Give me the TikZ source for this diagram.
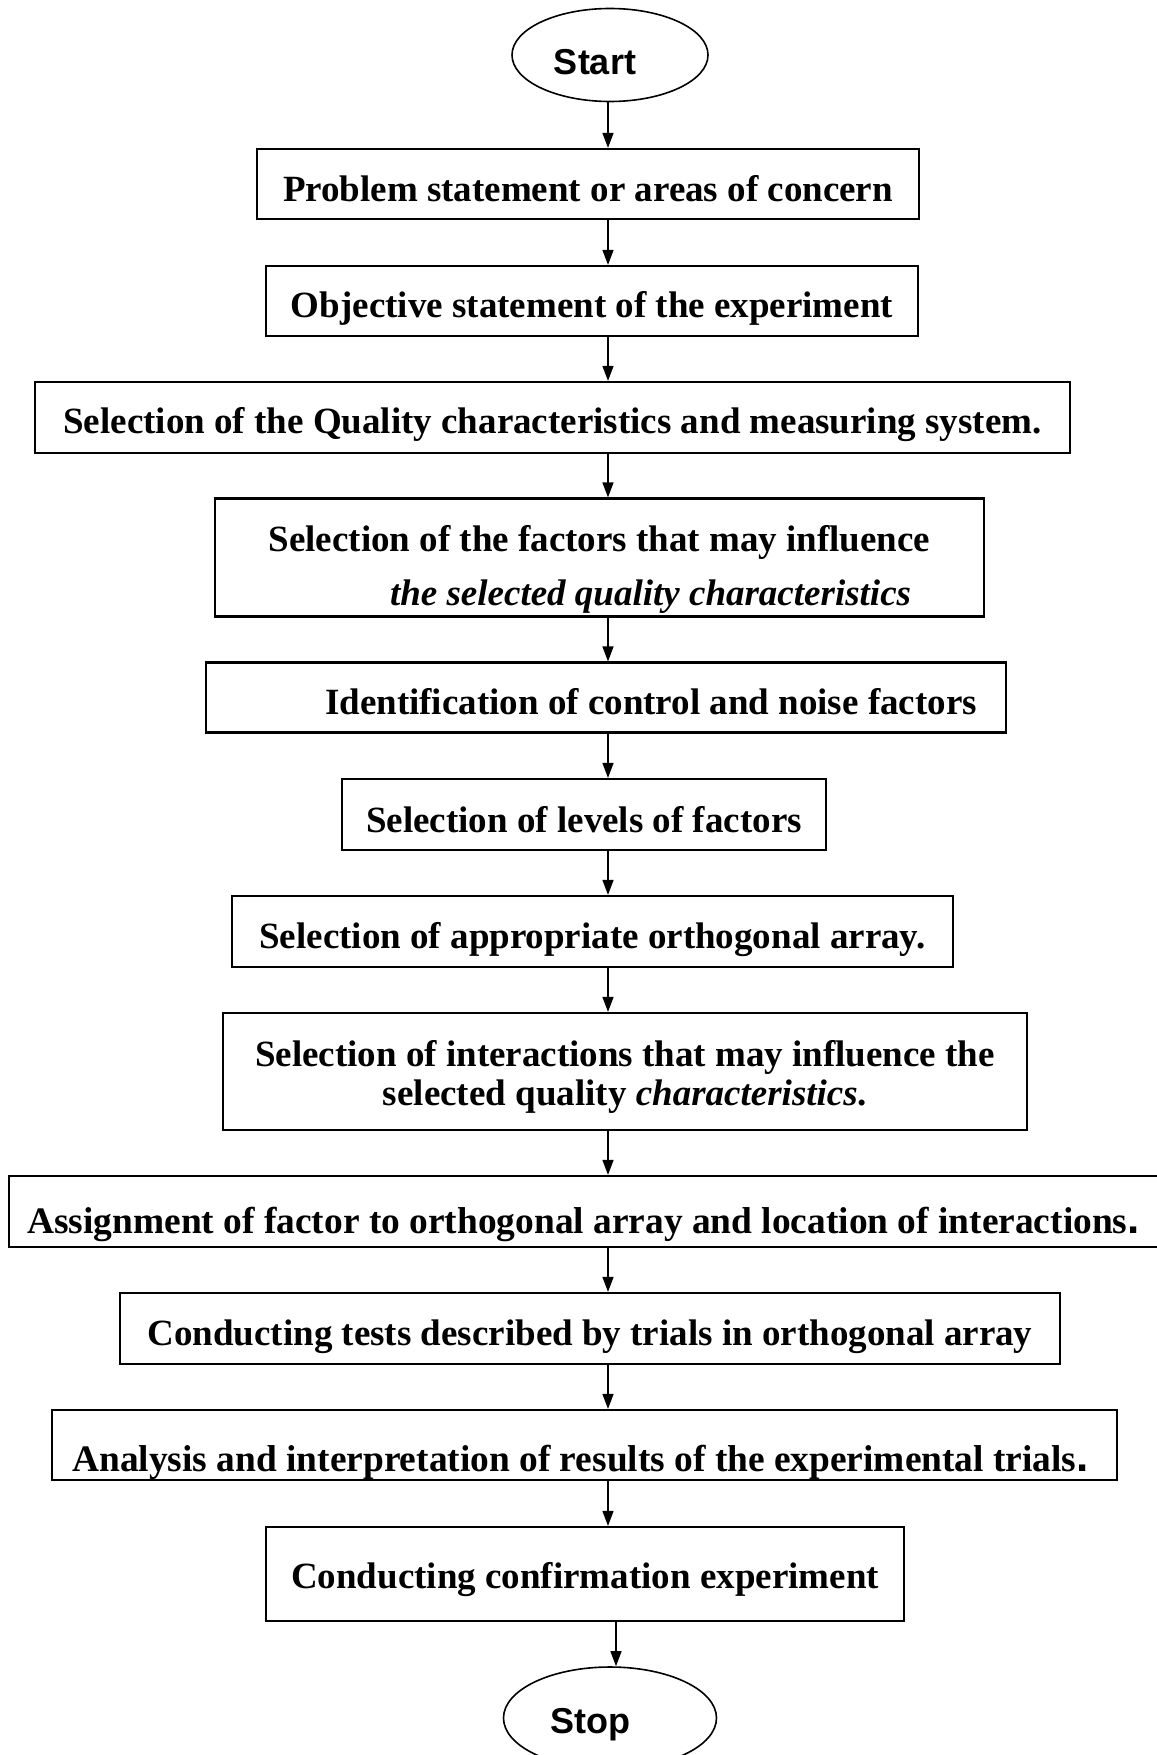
\documentclass[tikz,border=0pt]{standalone}
\usepackage{fontspec}
\setmainfont{Liberation Serif}
\newfontfamily\termfont{Liberation Sans}
\usetikzlibrary{arrows.meta,shapes.geometric}

% bold, slightly enlarged full stop used at the end of some steps
\newcommand{\bigstop}{{\termfont\fontsize{44}{44}\selectfont\bfseries.}}

\begin{document}
\begin{tikzpicture}[x=1pt,y=-1pt,
  stepbox/.style={draw, line width=2.2pt, inner sep=0pt, align=center,
    font=\fontsize{37}{42}\selectfont\bfseries},
  widestep/.style={stepbox, font=\fontsize{37.4}{42}\selectfont\bfseries},
  term/.style={draw, ellipse, line width=1.6pt, inner sep=0pt,
    font=\termfont\fontsize{36}{40}\selectfont\bfseries},
  flow/.style={-{Triangle[length=15pt,width=11pt]}, line width=1.4pt}]
\useasboundingbox (0,0) rectangle (1156,1755);

% terminals
\node[term, minimum width=196, minimum height=93, text height=39pt, text depth=0pt]
  (start) at (610,55) {Start\hspace*{30pt}};
\node[term, minimum width=213, minimum height=102, text height=30pt, text depth=0pt]
  (stop) at (610,1718) {Stop\hspace*{40pt}};

% process steps
\node[stepbox, minimum width=662, minimum height=70, text height=35pt, text depth=0pt]
  (b1) at (588,184) {Problem statement or areas of concern};
\node[stepbox, minimum width=652, minimum height=70, text height=32pt, text depth=0pt]
  (b2) at (592,301) {Objective statement of the experiment};
\node[stepbox, minimum width=1035, minimum height=71, text height=31pt, text depth=0pt]
  (b3) at (552.5,417.5) {Selection of the Quality characteristics and measuring system.};
\node[stepbox, minimum width=769, minimum height=118, text height=95pt, text depth=0pt,
  font=\fontsize{37}{54}\selectfont\bfseries]
  (b4) at (599.5,557.5) {Selection of the factors that may influence\\
  \hspace*{102pt}\textit{the selected quality characteristics}};
\node[stepbox, minimum width=800, minimum height=70, text height=34pt, text depth=0pt]
  (b5) at (606,697.5) {\hspace*{90pt}Identification of control and noise factors};
\node[stepbox, minimum width=484, minimum height=71, text height=35pt, text depth=0pt]
  (b6) at (584,814.5) {Selection of levels of factors};
\node[stepbox, minimum width=721, minimum height=71, text height=33pt, text depth=0pt]
  (b7) at (592.5,931.5) {Selection of appropriate orthogonal array.};
\node[stepbox, minimum width=804, minimum height=117, text height=67pt, text depth=0pt,
  font=\fontsize{37}{39}\selectfont\bfseries]
  (b8) at (625,1071.5) {Selection of interactions that may influence the\\
  selected quality \textit{characteristics}.};
\node[widestep, minimum width=1149, minimum height=71, text height=44pt, text depth=0pt]
  (b9) at (583.5,1211.5) {Assignment of factor to orthogonal array and location of interactions\bigstop};
\node[stepbox, minimum width=940, minimum height=71, text height=33pt, text depth=0pt]
  (b10) at (590,1328.5) {Conducting tests described by trials in orthogonal array};
\node[widestep, minimum width=1065, minimum height=70, text height=52pt, text depth=0pt]
  (b11) at (584.5,1445) {Analysis and interpretation of results of the experimental trials\bigstop\hspace*{8pt}};
\node[stepbox, minimum width=638, minimum height=94, text height=28pt, text depth=0pt]
  (b12) at (585,1574) {Conducting confirmation experiment};

% connectors run down one common column
\coordinate (col) at (608,0);
\coordinate (lastcol) at (616,0);
\draw[flow] (start.south -| col) -- (b1.north -| col);
\draw[flow] (b1.south -| col) -- (b2.north -| col);
\draw[flow] (b2.south -| col) -- (b3.north -| col);
\draw[flow] (b3.south -| col) -- (b4.north -| col);
\draw[flow] (b4.south -| col) -- (b5.north -| col);
\draw[flow] (b5.south -| col) -- (b6.north -| col);
\draw[flow] (b6.south -| col) -- (b7.north -| col);
\draw[flow] (b7.south -| col) -- (b8.north -| col);
\draw[flow] (b8.south -| col) -- (b9.north -| col);
\draw[flow] (b9.south -| col) -- (b10.north -| col);
\draw[flow] (b10.south -| col) -- (b11.north -| col);
\draw[flow] (b11.south -| col) -- (b12.north -| col);
\draw[flow] (b12.south -| lastcol) -- (stop.north -| lastcol);
\end{tikzpicture}
\end{document}
